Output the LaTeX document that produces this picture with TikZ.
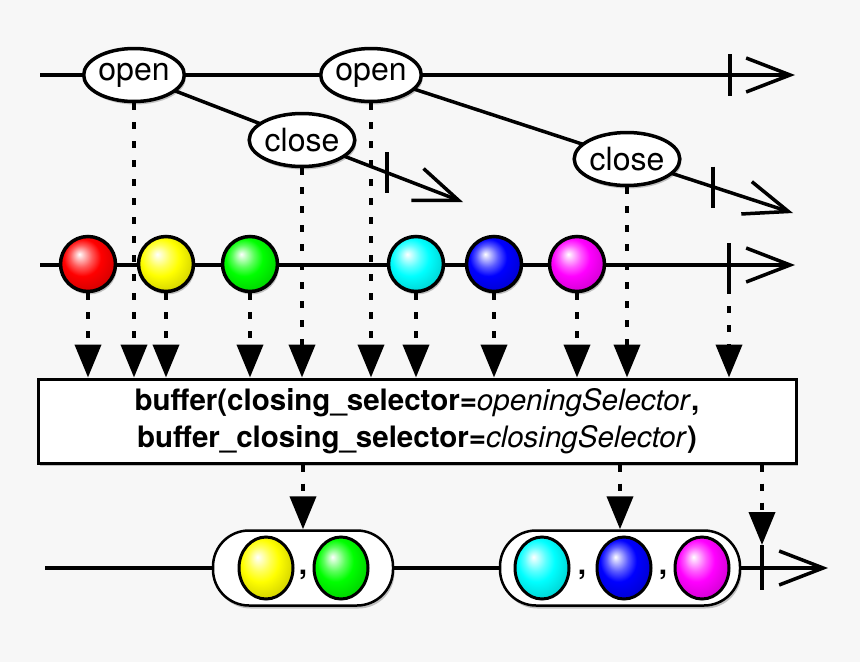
\documentclass[tikz,border=0pt]{standalone}
\usepackage{fontspec}
\setmainfont{TeX Gyre Heros}
\usetikzlibrary{arrows.meta,shapes.geometric,shadows}
\pgfdeclarelayer{bg}
\pgfdeclarelayer{lines}
\pgfsetlayers{bg,lines,main}
\definecolor{bgcol}{HTML}{F7F7F7}
\colorlet{mcol}{red}
\pgfdeclareradialshading[mcol]{marble}{\pgfpoint{-8bp}{9bp}}{%
  color(0bp)=(white); color(3bp)=(mcol!20!white); color(10bp)=(mcol!65!white);
  color(17bp)=(mcol); color(28bp)=(mcol!85!black); color(40bp)=(mcol!60!black); color(50bp)=(mcol!50!black)}
\tikzset{
  shad/.style={drop shadow={shadow xshift=1.5pt, shadow yshift=-3pt, opacity=0.22, fill=black}},
  tline/.style={line width=3.5pt, -{Straight Barb[length=44pt,width=34pt]}},
  tickmark/.style={line width=3.5pt},
  evt/.style={ellipse, draw, line width=3.5pt, fill=white, minimum width=97pt, minimum height=53pt, inner sep=0pt, font=\fontsize{32}{32}\selectfont, shad},
  mfill/.style={/utils/exec={\colorlet{mcol}{#1}}, shading=marble},
  marble/.style={circle, draw, line width=3.5pt, minimum size=55pt, inner sep=0pt, shad, mfill=#1},
  imarble/.style={ellipse, draw, line width=3pt, minimum width=54pt, minimum height=62pt, inner sep=0pt, mfill=#1},
  capsule/.style={draw, line width=2.5pt, fill=white, rounded corners=36pt, minimum height=75pt, inner sep=0pt, shad},
  opbox/.style={draw, line width=3pt, fill=white, minimum width=758pt, minimum height=84pt, align=center, inner sep=0pt, font=\fontsize{29.5}{37}\selectfont, shad},
  dotarrow/.style={line width=4pt, dash pattern=on 7pt off 12pt, -{Triangle[length=33pt,width=26pt]}},
  commatxt/.style={font=\fontsize{30}{30}\selectfont\bfseries, inner sep=0pt}
}
\begin{document}
\begin{tikzpicture}[x=1pt,y=-1pt]
\begin{pgfonlayer}{bg}
  \fill[bgcol] (0,0) rectangle (860,662);
\end{pgfonlayer}
\useasboundingbox (0,0) rectangle (860,662);

% coordinates
\coordinate (s1) at (40,75);
\coordinate (e1) at (795,75);
\coordinate (d1) at (463,202);
\coordinate (d2) at (793,213);
\coordinate (s2) at (40,265);
\coordinate (e2) at (795,265);
\coordinate (s3) at (45,568);
\coordinate (e3) at (828,568);
\coordinate (t1) at (730,75);
\coordinate (td1) at (387,172.5);
\coordinate (td2) at (713,187);
\coordinate (t2) at (729,265);
\coordinate (t2b) at (729,287);
\coordinate (t3) at (762,568);
\coordinate (t3top) at (762,545);

% nodes
\node[evt] (o1) at (134,75) {open};
\node[evt] (o2) at (371,75) {open};
\node[evt] (c1) at (302,140) {close};
\node[evt] (c2) at (627,159) {close};

\node[marble=red] (m1) at (88,264) {};
\node[marble=yellow] (m2) at (166,264) {};
\node[marble=green] (m3) at (250,264) {};
\node[marble=cyan] (m4) at (416,264) {};
\node[marble=blue] (m5) at (494,264) {};
\node[marble=magenta] (m6) at (577,264) {};

\node[opbox] (buf) at (417,421) {\textbf{buffer(closing\_selector=}\textit{openingSelector}\textbf{,}\\\textbf{buffer\_closing\_selector=}\textit{closingSelector}\textbf{)}};

\node[capsule, minimum width=180pt] (k1) at (303,568) {};
\node[capsule, minimum width=240pt] (k2) at (620,568) {};
\node[imarble=yellow] (y1) at (266,568) {};
\node[imarble=green] (g1) at (341,568) {};
\node[commatxt] (cm1) at (303,575) {,};
\node[imarble=cyan] (cy1) at (542,568) {};
\node[imarble=blue] (b1) at (624,568) {};
\node[imarble=magenta] (p1) at (702,568) {};
\node[commatxt] (cm2) at (582,575) {,};
\node[commatxt] (cm3) at (663,575) {,};

% timelines
\begin{pgfonlayer}{lines}
  \draw[tline] (s1) -- (e1);
  \draw[tline] (o1.center) -- (d1);
  \draw[tline] (o2.center) -- (d2);
  \draw[tline] (s2) -- (e2);
  \draw[tline] (s3) -- (e3);
\end{pgfonlayer}

% ticks
\draw[tickmark] (t1) ++(0,-21) -- ++(0,42);
\draw[tickmark] (td1) ++(0,-20.5) -- ++(0,41);
\draw[tickmark] (td2) ++(0,-20.5) -- ++(0,41);
\draw[tickmark] (t2) ++(0,-22) -- (t2b);
\draw[tickmark] (t3top) -- ++(0,45);

% dotted arrows into the operator box
\foreach \n in {o1,o2,c1,c2,m1,m2,m3,m4,m5,m6}
  \draw[dotarrow] (\n.south) -- (\n.south |- buf.north);
\draw[dotarrow] (t2b) -- (t2b |- buf.north);

% dotted arrows out of the operator box
\draw[dotarrow] (k1.north |- buf.south) -- (k1.north);
\draw[dotarrow] (k2.north |- buf.south) -- (k2.north);
\draw[dotarrow] (t3top |- buf.south) -- (t3top);
\end{tikzpicture}
\end{document}
